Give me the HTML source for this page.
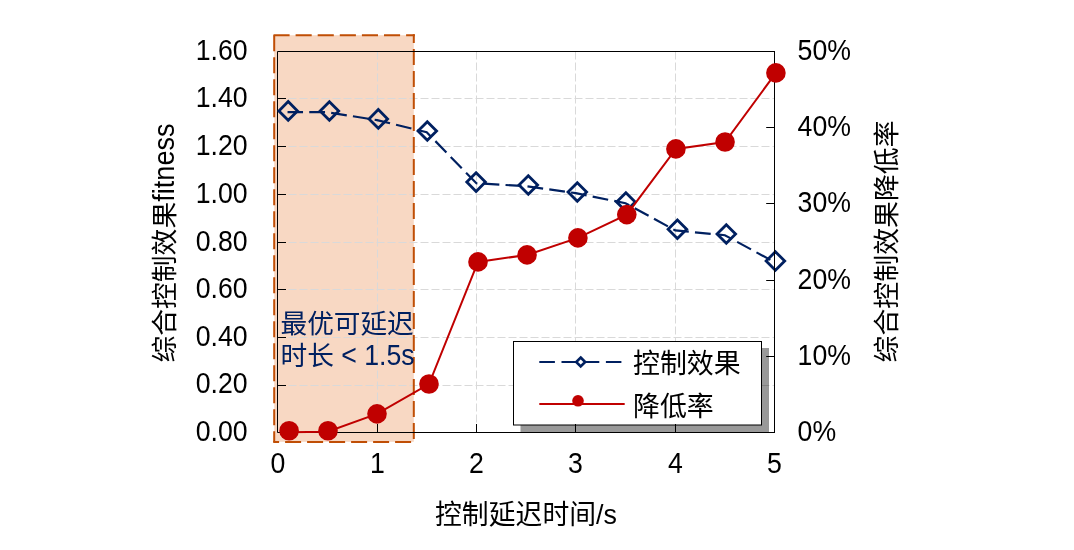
<!DOCTYPE html>
<html><head><meta charset="utf-8"><title>chart</title>
<style>html,body{margin:0;padding:0;background:#fff;overflow:hidden}svg{display:block;will-change:transform}</style>
</head><body>
<svg width="1074" height="550" viewBox="0 0 1074 550">
<rect x="0" y="0" width="1074" height="550" fill="#fff"/>
<rect x="274.2" y="35.2" width="139.6" height="406.6" fill="#F8D8C3"/>
<line x1="277.5" x2="774.5" y1="385.5" y2="385.5" stroke="#D9D9D9" stroke-width="1" stroke-dasharray="8 3"/>
<line x1="277.5" x2="774.5" y1="337.5" y2="337.5" stroke="#D9D9D9" stroke-width="1" stroke-dasharray="8 3"/>
<line x1="277.5" x2="774.5" y1="289.5" y2="289.5" stroke="#D9D9D9" stroke-width="1" stroke-dasharray="8 3"/>
<line x1="277.5" x2="774.5" y1="242.5" y2="242.5" stroke="#D9D9D9" stroke-width="1" stroke-dasharray="8 3"/>
<line x1="277.5" x2="774.5" y1="194.5" y2="194.5" stroke="#D9D9D9" stroke-width="1" stroke-dasharray="8 3"/>
<line x1="277.5" x2="774.5" y1="146.5" y2="146.5" stroke="#D9D9D9" stroke-width="1" stroke-dasharray="8 3"/>
<line x1="277.5" x2="774.5" y1="98.5" y2="98.5" stroke="#D9D9D9" stroke-width="1" stroke-dasharray="8 3"/>
<line x1="377.5" x2="377.5" y1="51.5" y2="432.5" stroke="#D9D9D9" stroke-width="1" stroke-dasharray="8 3"/>
<line x1="476.5" x2="476.5" y1="51.5" y2="432.5" stroke="#D9D9D9" stroke-width="1" stroke-dasharray="8 3"/>
<line x1="575.5" x2="575.5" y1="51.5" y2="432.5" stroke="#D9D9D9" stroke-width="1" stroke-dasharray="8 3"/>
<line x1="675.5" x2="675.5" y1="51.5" y2="432.5" stroke="#D9D9D9" stroke-width="1" stroke-dasharray="8 3"/>
<path d="M274.2 35.2V442" fill="none" stroke="#C04E05" stroke-width="2" stroke-dasharray="16 6"/>
<path d="M273.2 442H414.8" fill="none" stroke="#C04E05" stroke-width="2" stroke-dasharray="16 6" stroke-dashoffset="10.1"/>
<path d="M413.8 34.2V441.8" fill="none" stroke="#C04E05" stroke-width="2" stroke-dasharray="16 6" stroke-dashoffset="7.2"/>
<path d="M273.2 35.2H414.8" fill="none" stroke="#C04E05" stroke-width="2" stroke-dasharray="16.1 6" stroke-dashoffset="21.8"/>
<rect x="520.5" y="348" width="248.5" height="84" fill="rgba(0,0,0,0.4)"/>
<rect x="513.5" y="341.5" width="248" height="83.5" fill="#fff" stroke="#000" stroke-width="1"/>
<line x1="539.3" x2="621.4" y1="362" y2="362" stroke="#002060" stroke-width="2.2" stroke-dasharray="15.6 6.6"/>
<path d="M580.7 357.5L585.2 362L580.7 366.5L576.2 362Z" fill="#fff" stroke="#002060" stroke-width="2.6"/>
<line x1="539.3" x2="624.7" y1="404" y2="404" stroke="#C00000" stroke-width="2"/>
<circle cx="578" cy="400.8" r="5.8" fill="#C00000"/>
<text transform="translate(633 372.5) scale(1.01 1.04)" font-size="26.67" font-family='"Liberation Sans", "Noto Sans CJK SC", sans-serif'>控制效果</text>
<text transform="translate(633 415.5) scale(1.01 1.04)" font-size="26.67" font-family='"Liberation Sans", "Noto Sans CJK SC", sans-serif'>降低率</text>
<path d="M774.5 51.5H277.5V432.5H774.5" fill="none" stroke="#000" stroke-width="1"/>
<line x1="277.5" x2="286" y1="385.5" y2="385.5" stroke="#000" stroke-width="1"/>
<line x1="277.5" x2="286" y1="337.5" y2="337.5" stroke="#000" stroke-width="1"/>
<line x1="277.5" x2="286" y1="289.5" y2="289.5" stroke="#000" stroke-width="1"/>
<line x1="277.5" x2="286" y1="242.5" y2="242.5" stroke="#000" stroke-width="1"/>
<line x1="277.5" x2="286" y1="194.5" y2="194.5" stroke="#000" stroke-width="1"/>
<line x1="277.5" x2="286" y1="146.5" y2="146.5" stroke="#000" stroke-width="1"/>
<line x1="277.5" x2="286" y1="98.5" y2="98.5" stroke="#000" stroke-width="1"/>
<line x1="377.5" x2="377.5" y1="424" y2="432.5" stroke="#000" stroke-width="1"/>
<line x1="476.5" x2="476.5" y1="424" y2="432.5" stroke="#000" stroke-width="1"/>
<line x1="575.5" x2="575.5" y1="424" y2="432.5" stroke="#000" stroke-width="1"/>
<line x1="675.5" x2="675.5" y1="424" y2="432.5" stroke="#000" stroke-width="1"/>
<polyline points="287.54,112.10 327.30,112.20 377.00,120.10 426.70,132.20 476.40,183.30 526.10,186.20 575.80,193.20 625.50,203.20 675.20,230.40 724.90,235.20 774.60,262.20" fill="none" stroke="#002060" stroke-width="2.2" stroke-dasharray="15.8 6.2" stroke-dashoffset="0.3"/>
<path d="M288.2 101.6L297.5 110.9L288.2 120.2L278.9 110.9Z" fill="none" stroke="#002060" stroke-width="2.8"/>
<path d="M329.4 101.7L338.7 111.0L329.4 120.3L320.1 111.0Z" fill="none" stroke="#002060" stroke-width="2.8"/>
<path d="M378.3 109.6L387.6 118.9L378.3 128.2L369.0 118.9Z" fill="none" stroke="#002060" stroke-width="2.8"/>
<path d="M427.3 121.7L436.6 131.0L427.3 140.3L418.0 131.0Z" fill="none" stroke="#002060" stroke-width="2.8"/>
<path d="M476.1 172.8L485.4 182.1L476.1 191.4L466.8 182.1Z" fill="none" stroke="#002060" stroke-width="2.8"/>
<path d="M528.3 175.7L537.6 185.0L528.3 194.3L519.0 185.0Z" fill="none" stroke="#002060" stroke-width="2.8"/>
<path d="M577.3 182.7L586.6 192.0L577.3 201.3L568.0 192.0Z" fill="none" stroke="#002060" stroke-width="2.8"/>
<path d="M625.9 192.7L635.2 202.0L625.9 211.3L616.6 202.0Z" fill="none" stroke="#002060" stroke-width="2.8"/>
<path d="M677.4 219.9L686.7 229.2L677.4 238.5L668.1 229.2Z" fill="none" stroke="#002060" stroke-width="2.8"/>
<path d="M726.3 224.7L735.6 234.0L726.3 243.3L717.0 234.0Z" fill="none" stroke="#002060" stroke-width="2.8"/>
<path d="M775.4 251.7L784.7 261.0L775.4 270.3L766.1 261.0Z" fill="none" stroke="#002060" stroke-width="2.8"/>
<line x1="774.5" x2="774.5" y1="51.0" y2="433.0" stroke="#000" stroke-width="1"/>
<line x1="766.2" x2="774.5" y1="356.5" y2="356.5" stroke="#000" stroke-width="1"/>
<line x1="766.2" x2="774.5" y1="280.5" y2="280.5" stroke="#000" stroke-width="1"/>
<line x1="766.2" x2="774.5" y1="203.5" y2="203.5" stroke="#000" stroke-width="1"/>
<line x1="766.2" x2="774.5" y1="127.5" y2="127.5" stroke="#000" stroke-width="1"/>
<polyline points="288.30,432.20 327.50,431.80 377.00,413.85 429.00,384.00 478.00,261.90 527.05,254.90 577.90,237.90 626.80,214.60 675.90,148.90 725.05,142.00 775.90,72.90" fill="none" stroke="#C00000" stroke-width="2"/>
<circle cx="289.1" cy="430.7" r="9.8" fill="#C00000"/>
<circle cx="328" cy="430.7" r="9.8" fill="#C00000"/>
<circle cx="377" cy="413.85" r="9.8" fill="#C00000"/>
<circle cx="429" cy="384" r="9.8" fill="#C00000"/>
<circle cx="478" cy="261.9" r="9.8" fill="#C00000"/>
<circle cx="527.05" cy="254.9" r="9.8" fill="#C00000"/>
<circle cx="577.9" cy="237.9" r="9.8" fill="#C00000"/>
<circle cx="626.8" cy="214.6" r="9.8" fill="#C00000"/>
<circle cx="675.9" cy="148.9" r="9.8" fill="#C00000"/>
<circle cx="725.05" cy="142" r="9.8" fill="#C00000"/>
<circle cx="775.9" cy="72.9" r="9.8" fill="#C00000"/>
<text transform="translate(247.6 440.9) scale(1.0 1.1)" font-size="26.67" text-anchor="end" font-family='"Liberation Sans", Arial, sans-serif'>0.00</text>
<text transform="translate(247.6 393.0) scale(1.0 1.1)" font-size="26.67" text-anchor="end" font-family='"Liberation Sans", Arial, sans-serif'>0.20</text>
<text transform="translate(247.6 345.9) scale(1.0 1.1)" font-size="26.67" text-anchor="end" font-family='"Liberation Sans", Arial, sans-serif'>0.40</text>
<text transform="translate(247.6 297.9) scale(1.0 1.1)" font-size="26.67" text-anchor="end" font-family='"Liberation Sans", Arial, sans-serif'>0.60</text>
<text transform="translate(247.6 250.9) scale(1.0 1.1)" font-size="26.67" text-anchor="end" font-family='"Liberation Sans", Arial, sans-serif'>0.80</text>
<text transform="translate(247.6 202.9) scale(1.0 1.1)" font-size="26.67" text-anchor="end" font-family='"Liberation Sans", Arial, sans-serif'>1.00</text>
<text transform="translate(247.6 154.9) scale(1.0 1.1)" font-size="26.67" text-anchor="end" font-family='"Liberation Sans", Arial, sans-serif'>1.20</text>
<text transform="translate(247.6 106.9) scale(1.0 1.1)" font-size="26.67" text-anchor="end" font-family='"Liberation Sans", Arial, sans-serif'>1.40</text>
<text transform="translate(247.6 59.9) scale(1.0 1.1)" font-size="26.67" text-anchor="end" font-family='"Liberation Sans", Arial, sans-serif'>1.60</text>
<text transform="translate(797.6 440.9) scale(1.0 1.1)" font-size="26.67" font-family='"Liberation Sans", Arial, sans-serif'>0%</text>
<text transform="translate(797.6 364.9) scale(1.0 1.1)" font-size="26.67" font-family='"Liberation Sans", Arial, sans-serif'>10%</text>
<text transform="translate(797.6 288.9) scale(1.0 1.1)" font-size="26.67" font-family='"Liberation Sans", Arial, sans-serif'>20%</text>
<text transform="translate(797.6 211.9) scale(1.0 1.1)" font-size="26.67" font-family='"Liberation Sans", Arial, sans-serif'>30%</text>
<text transform="translate(797.6 135.9) scale(1.0 1.1)" font-size="26.67" font-family='"Liberation Sans", Arial, sans-serif'>40%</text>
<text transform="translate(797.6 59.9) scale(1.0 1.1)" font-size="26.67" font-family='"Liberation Sans", Arial, sans-serif'>50%</text>
<text transform="translate(277.8 472.8) scale(1.0 1.1)" font-size="26.67" text-anchor="middle" font-family='"Liberation Sans", Arial, sans-serif'>0</text>
<text transform="translate(377.5 472.8) scale(1.0 1.1)" font-size="26.67" text-anchor="middle" font-family='"Liberation Sans", Arial, sans-serif'>1</text>
<text transform="translate(476.5 472.8) scale(1.0 1.1)" font-size="26.67" text-anchor="middle" font-family='"Liberation Sans", Arial, sans-serif'>2</text>
<text transform="translate(575.5 472.8) scale(1.0 1.1)" font-size="26.67" text-anchor="middle" font-family='"Liberation Sans", Arial, sans-serif'>3</text>
<text transform="translate(675.5 472.8) scale(1.0 1.1)" font-size="26.67" text-anchor="middle" font-family='"Liberation Sans", Arial, sans-serif'>4</text>
<text transform="translate(774.5 472.8) scale(1.0 1.1)" font-size="26.67" text-anchor="middle" font-family='"Liberation Sans", Arial, sans-serif'>5</text>
<text transform="translate(526 524) scale(1.007 1.03)" font-size="26.67" text-anchor="middle" font-family='"Liberation Sans", "Noto Sans CJK SC", sans-serif'>控制延迟时间/s</text>
<text transform="translate(173.6 362.53) rotate(-90) scale(1.005 1.0)" font-size="26.67" font-family='"Liberation Sans", "Noto Sans CJK SC", sans-serif'>综合控制效果</text>
<text transform="translate(173.6 201.71) rotate(-90) scale(1.015 1.08)" font-size="26.67" font-family='"Liberation Sans", Arial, sans-serif'>fitness</text>
<text transform="translate(896.3 241.4) rotate(-90) scale(1.009 1.0)" font-size="26.67" text-anchor="middle" font-family='"Liberation Sans", "Noto Sans CJK SC", sans-serif'>综合控制效果降低率</text>
<text transform="translate(280.5 333) scale(1.0 1.0)" font-size="26.67" fill="#002060" font-family='"Liberation Sans", "Noto Sans CJK SC", sans-serif'>最优可延迟</text>
<text transform="translate(280.5 364.6) scale(1.0 1.0)" font-size="26.67" fill="#002060" font-family='"Liberation Sans", "Noto Sans CJK SC", sans-serif'>时长</text>
<text transform="translate(341.25 364.6) scale(1.0 1.08)" font-size="26.67" fill="#002060" font-family='"Liberation Sans", Arial, sans-serif'>&lt; 1.5s</text>
</svg>
</body></html>
